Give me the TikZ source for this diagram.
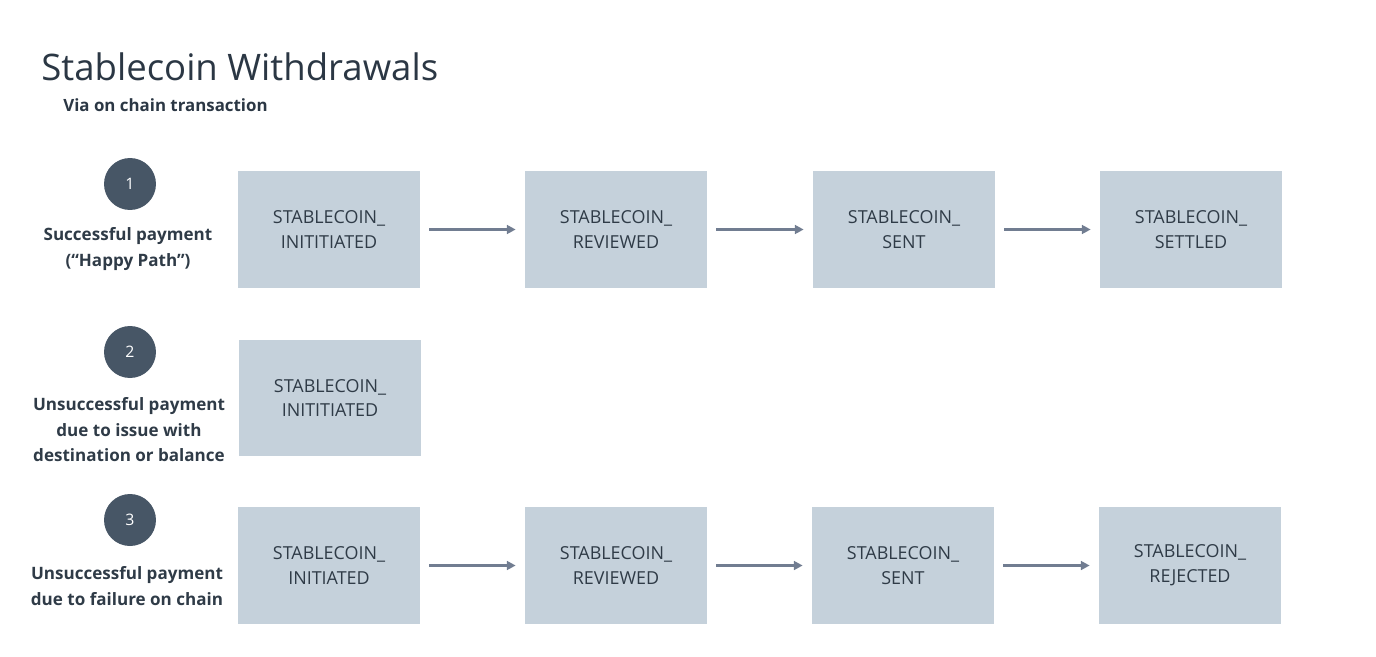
\documentclass[tikz,border=0pt]{standalone}
\usepackage{fontspec}
\setmainfont{Open Sans}
\usetikzlibrary{arrows.meta,positioning}
\definecolor{boxfill}{HTML}{C5D1DB}
\definecolor{boxtext}{HTML}{2F3B47}
\definecolor{arrowcol}{HTML}{717D91}
\definecolor{stepcol}{HTML}{475666}
\definecolor{titlecol}{HTML}{2B3744}

\begin{document}
\begin{tikzpicture}[x=0.02cm,y=-0.02cm,
	state/.style={fill=boxfill,minimum width=3.64cm,minimum height=2.34cm,align=center,text=boxtext,font=\fontsize{10.2}{14.2}\selectfont},
	stepmark/.style={circle,fill=stepcol,minimum size=1.04cm,inner sep=0pt,text=white,font=\fontsize{9}{11}\selectfont},
	caption/.style={align=center,text=boxtext,font=\bfseries\fontsize{9.7}{14.5}\selectfont},
	flow/.style={-{Triangle[length=5pt,width=5pt]},arrowcol,line width=1.7pt,shorten <=0.18cm,shorten >=0.18cm}]
	\useasboundingbox (0,0) rectangle (1376,656);
	% title
	\node[anchor=base west,inner sep=0pt,text=titlecol,font=\fontsize{20.8}{24}\selectfont] (title) at (41,80) {Stablecoin Withdrawals};
	\node[anchor=base west,inner sep=0pt,text=titlecol,font=\bfseries\fontsize{9.6}{11}\selectfont] (sub) at (63,111) {Via on chain transaction};

	% row 1
	\node[stepmark] (s1) at (130,184) {1};
	\node[caption] (c1) at (128,249) {Successful payment\\(“Happy Path”)};
	\node[state] (a1) at (329,229.5) {STABLECOIN\_\\INITITIATED};
	\node[state] (a2) at (616,229.5) {STABLECOIN\_\\REVIEWED};
	\node[state] (a3) at (904,229.5) {STABLECOIN\_\\SENT};
	\node[state] (a4) at (1191,229.5) {STABLECOIN\_\\SETTLED};
	\draw[flow] (a1) -- (a2);
	\draw[flow] (a2) -- (a3);
	\draw[flow] (a3) -- (a4);

	% row 2
	\node[stepmark] (s2) at (130,352) {2};
	\node[caption] (c2) at (129,430) {Unsuccessful payment\\due to issue with\\destination or balance};
	\node[state] (b1) at (330,398) {STABLECOIN\_\\INITITIATED};

	% row 3
	\node[stepmark] (s3) at (130,520) {3};
	\node[caption] (c3) at (127,586) {Unsuccessful payment\\due to failure on chain};
	\node[state] (d1) at (329,565.5) {STABLECOIN\_\\INITIATED};
	\node[state] (d2) at (616,565.5) {STABLECOIN\_\\REVIEWED};
	\node[state] (d3) at (903,565.5) {STABLECOIN\_\\SENT};
	\node[state] (d4) at (1190,565.5) {STABLECOIN\_\\REJECTED};
	\draw[flow] (d1) -- (d2);
	\draw[flow] (d2) -- (d3);
	\draw[flow] (d3) -- (d4);
\end{tikzpicture}
\end{document}
